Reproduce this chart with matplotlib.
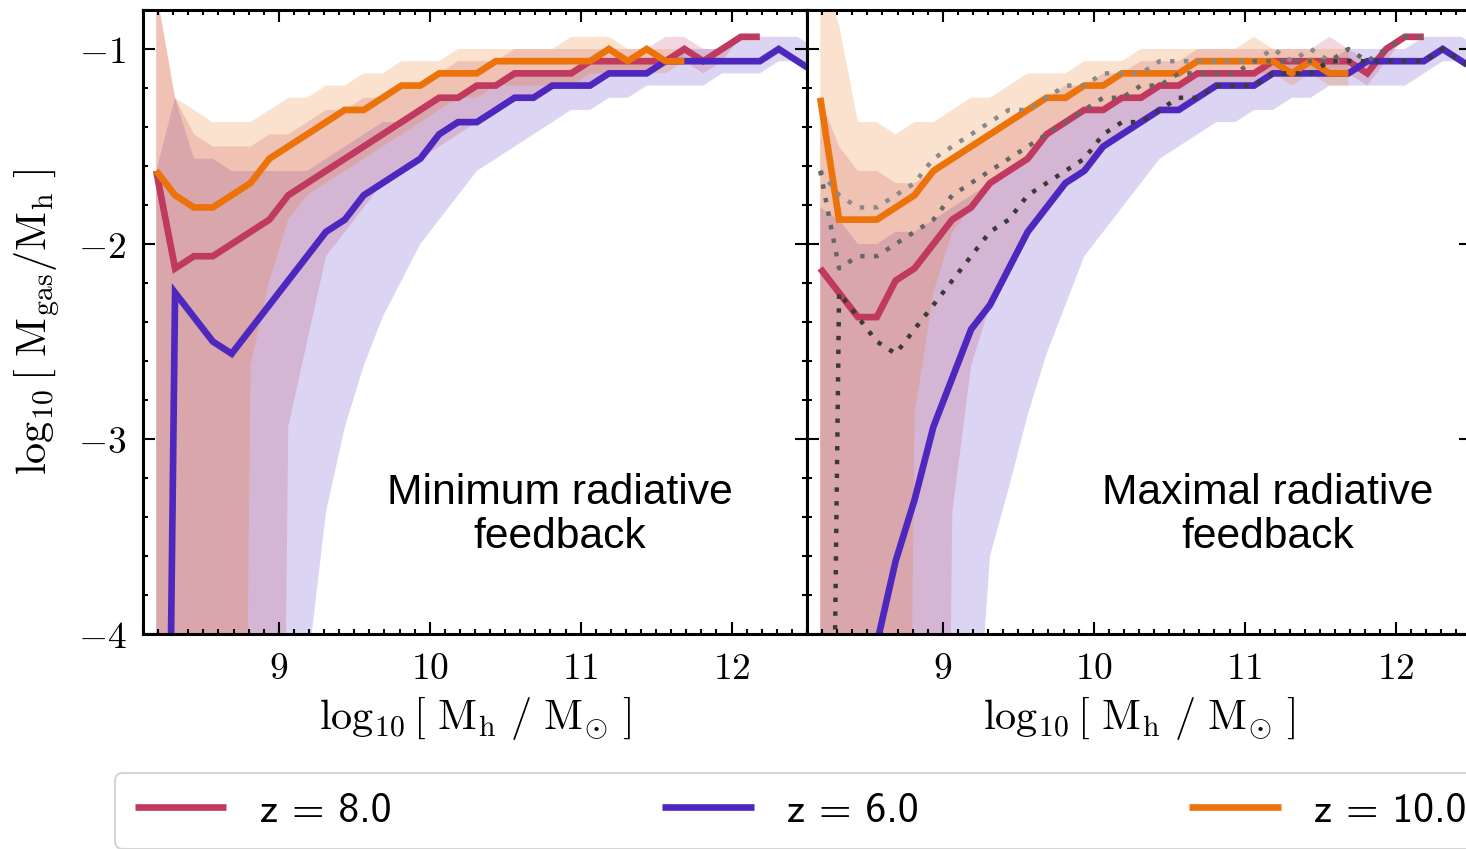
import matplotlib
matplotlib.use("Agg")
import matplotlib.pyplot as plt
from matplotlib.ticker import MultipleLocator, FuncFormatter
from matplotlib.lines import Line2D

plt.rcParams["mathtext.fontset"] = "cm"

# ---- halo-mass bin centres, log10(M_h / M_sun) ----
log_mh = [8.1875, 8.3125, 8.4375, 8.5625, 8.6875, 8.8125, 8.9375, 9.0625, 9.1875,
          9.3125, 9.4375, 9.5625, 9.6875, 9.8125, 9.9375, 10.0625, 10.1875, 10.3125,
          10.4375, 10.5625, 10.6875, 10.8125, 10.9375, 11.0625, 11.1875, 11.3125,
          11.4375, 11.5625, 11.6875, 11.8125, 11.9375, 12.0625, 12.1875, 12.3125,
          12.4375, 12.5625]

# ---- minimum radiative feedback: median and scatter of log10(M_gas/M_h) ----
z8_min_med = [-1.625, -2.125, -2.0625, -2.0625, -2.0, -1.9375, -1.875, -1.75, -1.6875,
              -1.625, -1.5625, -1.5, -1.4375, -1.375, -1.3125, -1.25, -1.25, -1.1875,
              -1.1875, -1.125, -1.125, -1.125, -1.125, -1.0625, -1.0625, -1.0625,
              -1.0625, -1.0625, -1.0, -1.0625, -1.0, -0.9375, -0.9375]
z8_min_hi = [-0.7, -1.25, -1.4375, -1.5, -1.5, -1.5, -1.4375, -1.4375, -1.375, -1.3125,
             -1.3125, -1.25, -1.25, -1.1875, -1.1875, -1.125, -1.0625, -1.0625, -1.0625,
             -1.0, -1.0, -1.0, -1.0, -1.0, -1.0, -1.0, -1.0, -0.9375, -0.9375, -1.0, -1.0,
             -0.9375, -0.9375]
z8_min_lo = [-12, -12, -12, -12, -12, -12, -12, -2.9375, -2.5, -2.0625, -1.9375, -1.8125,
             -1.6875, -1.625, -1.5625, -1.5, -1.4375, -1.375, -1.3125, -1.25, -1.25,
             -1.1875, -1.1875, -1.1875, -1.125, -1.125, -1.125, -1.0625, -1.0625, -1.125,
             -1.0625, -0.9375, -0.9375]

z6_min_med = [-10.5, -2.25, -2.375, -2.5, -2.5625, -2.4375, -2.3125, -2.1875, -2.0625,
              -1.9375, -1.875, -1.75, -1.6875, -1.625, -1.5625, -1.4375, -1.375, -1.375,
              -1.3125, -1.25, -1.25, -1.1875, -1.1875, -1.1875, -1.125, -1.125, -1.125,
              -1.0625, -1.0625, -1.0625, -1.0625, -1.0625, -1.0625, -1.0, -1.0625, -1.125]
z6_min_hi = [-1.625, -1.25, -1.5625, -1.5625, -1.625, -1.625, -1.625, -1.625, -1.625,
             -1.5625, -1.5, -1.4375, -1.375, -1.375, -1.3125, -1.25, -1.25, -1.1875,
             -1.1875, -1.125, -1.125, -1.125, -1.125, -1.0625, -1.0625, -1.0625, -1.0625,
             -1.0625, -1.0, -1.0, -1.0, -0.9375, -0.9375, -0.9375, -0.9375, -1.0]
z6_min_lo = [-12, -12, -12, -12, -12, -12, -12, -12, -4.2, -3.375, -2.9375, -2.625,
             -2.375, -2.1875, -2.0, -1.875, -1.75, -1.625, -1.5625, -1.5, -1.4375, -1.375,
             -1.3125, -1.3125, -1.25, -1.25, -1.1875, -1.1875, -1.1875, -1.1875, -1.125,
             -1.125, -1.125, -1.0625, -1.0625, -1.125]

z10_min_med = [-1.625, -1.75, -1.8125, -1.8125, -1.75, -1.6875, -1.5625, -1.5, -1.4375,
               -1.375, -1.3125, -1.3125, -1.25, -1.1875, -1.1875, -1.125, -1.125, -1.125,
               -1.0625, -1.0625, -1.0625, -1.0625, -1.0625, -1.0625, -1.0, -1.0625, -1.0,
               -1.0625, -1.0625]
z10_min_hi = [-0.7, -1.25, -1.3125, -1.375, -1.375, -1.375, -1.3125, -1.25, -1.25,
              -1.1875, -1.1875, -1.125, -1.125, -1.0625, -1.0625, -1.0625, -1.0, -1.0,
              -1.0, -1.0, -1.0, -1.0, -0.9375, -0.9375, -0.9375, -1.0, -1.0, -1.0, -1.0]
z10_min_lo = [-12, -12, -12, -12, -12, -2.625, -2.1875, -1.875, -1.75, -1.6875, -1.625,
              -1.5625, -1.5, -1.4375, -1.375, -1.3125, -1.25, -1.25, -1.1875, -1.1875,
              -1.1875, -1.1875, -1.1875, -1.125, -1.125, -1.125, -1.125, -1.125, -1.0625]

# ---- maximal radiative feedback ----
z8_max_med = [-2.125, -2.25, -2.375, -2.375, -2.1875, -2.125, -2.0, -1.875, -1.8125,
              -1.6875, -1.625, -1.5625, -1.4375, -1.375, -1.3125, -1.3125, -1.25, -1.25,
              -1.1875, -1.1875, -1.125, -1.125, -1.125, -1.125, -1.0625, -1.0625, -1.0625,
              -1.0625, -1.0625, -1.125, -1.0, -0.9375, -0.9375]
z8_max_hi = [-1.25, -1.5, -1.625, -1.625, -1.6875, -1.6875, -1.625, -1.5625, -1.5,
             -1.4375, -1.375, -1.3125, -1.25, -1.1875, -1.1875, -1.125, -1.125, -1.0625,
             -1.0625, -1.0625, -1.0, -1.0, -1.0, -1.0, -1.0, -1.0, -1.0, -0.9375, -1.0,
             -1.0625, -1.0, -0.9375, -0.9375]
z8_max_lo = [-12, -12, -12, -12, -12, -12, -12, -3.375, -2.625, -2.3125, -2.125, -1.9375,
             -1.8125, -1.6875, -1.625, -1.5, -1.4375, -1.375, -1.3125, -1.3125, -1.25,
             -1.1875, -1.1875, -1.1875, -1.125, -1.125, -1.125, -1.125, -1.125, -1.1875,
             -1.0625, -0.9375, -0.9375]

z6_max_med = [-6.0, -5.5, -4.8, -4.05, -3.625, -3.3125, -2.9375, -2.6875, -2.4375,
              -2.3125, -2.125, -1.9375, -1.8125, -1.6875, -1.625, -1.5, -1.4375, -1.375,
              -1.3125, -1.3125, -1.25, -1.1875, -1.1875, -1.1875, -1.125, -1.125, -1.125,
              -1.125, -1.125, -1.0625, -1.0625, -1.0625, -1.0625, -1.0, -1.0625, -1.125]
z6_max_hi = [-1.8125, -1.875, -2.0, -2.0, -1.9375, -1.9375, -1.875, -1.8125, -1.75,
             -1.6875, -1.625, -1.5625, -1.4375, -1.375, -1.3125, -1.3125, -1.25, -1.25,
             -1.1875, -1.1875, -1.125, -1.125, -1.125, -1.125, -1.0625, -1.0625, -1.0625,
             -1.0625, -1.0, -1.0, -1.0, -1.0, -0.9375, -0.9375, -0.9375, -1.0]
z6_max_lo = [-12, -12, -12, -12, -12, -12, -12, -12, -5.0, -3.6, -3.25, -2.875, -2.5625,
             -2.3125, -2.0625, -1.9375, -1.8125, -1.6875, -1.5625, -1.5, -1.4375, -1.375,
             -1.375, -1.3125, -1.3125, -1.25, -1.25, -1.1875, -1.1875, -1.1875, -1.1875,
             -1.1875, -1.125, -1.0625, -1.0625, -1.125]

z10_max_med = [-1.25, -1.875, -1.875, -1.875, -1.8125, -1.75, -1.625, -1.5625, -1.5,
               -1.4375, -1.375, -1.3125, -1.25, -1.25, -1.1875, -1.1875, -1.125, -1.125,
               -1.125, -1.125, -1.0625, -1.0625, -1.0625, -1.0625, -1.0625, -1.125,
               -1.0625, -1.125, -1.125]
z10_max_hi = [-0.6, -0.875, -1.375, -1.375, -1.4375, -1.375, -1.375, -1.3125, -1.25,
              -1.25, -1.1875, -1.125, -1.125, -1.125, -1.0625, -1.0625, -1.0625, -1.0,
              -1.0, -1.0, -1.0, -1.0, -1.0, -0.9375, -1.0, -1.0, -1.0, -1.0, -1.0]
z10_max_lo = [-12, -12, -12, -12, -12, -2.875, -2.25, -1.9375, -1.8125, -1.6875, -1.625,
              -1.5625, -1.4375, -1.375, -1.3125, -1.3125, -1.25, -1.25, -1.1875, -1.1875,
              -1.125, -1.125, -1.125, -1.125, -1.125, -1.1875, -1.125, -1.1875, -1.1875]

redshift_labels = ["8.0", "6.0", "10.0"]
panel_titles = ["Minimum radiative\nfeedback", "Maximal radiative\nfeedback"]

RED, PURPLE, ORANGE = "#C0395E", "#4E28BE", "#EC720A"
LW = 4.8
BAND_ALPHA = 0.2

W, H = 1466, 849
fig = plt.figure(figsize=(W / 100, H / 100), dpi=100)
ax_l = fig.add_axes([143 / W, 1 - 634 / H, 664 / W, 624 / H])
ax_r = fig.add_axes([807 / W, 1 - 634 / H, 664 / W, 624 / H], sharey=ax_l)


def draw_panel(ax, red, purple, orange):
    # bands first (z=6, z=8, z=10), then the medians on top
    for (med, lo, hi), col in ((purple, PURPLE), (red, RED), (orange, ORANGE)):
        n = len(med)
        ax.fill_between(log_mh[:n], lo, hi, color=col, alpha=BAND_ALPHA, lw=0)
    lines = []
    for (med, lo, hi), col in ((red, RED), (purple, PURPLE), (orange, ORANGE)):
        n = len(med)
        ln, = ax.plot(log_mh[:n], med, color=col, lw=LW, solid_joinstyle="miter",
                      solid_capstyle="butt")
        lines.append(ln)
    return lines


handles = draw_panel(ax_l, (z8_min_med, z8_min_lo, z8_min_hi),
                     (z6_min_med, z6_min_lo, z6_min_hi),
                     (z10_min_med, z10_min_lo, z10_min_hi))
draw_panel(ax_r, (z8_max_med, z8_max_lo, z8_max_hi),
           (z6_max_med, z6_max_lo, z6_max_hi),
           (z10_max_med, z10_max_lo, z10_max_hi))

# minimum-feedback medians repeated as dotted references
for med, grey in ((z10_min_med, "#8a8a8a"), (z8_min_med, "#666666"),
                  (z6_min_med, "#3a3a3a")):
    ax_r.plot(log_mh[:len(med)], med, color=grey, lw=3.2, dashes=(1, 2.1))

math = FuncFormatter(lambda v, p: r"$%g$" % v)
for ax in (ax_l, ax_r):
    ax.set_xlim(8.1, 12.5)
    ax.set_ylim(-4, -0.8)
    ax.xaxis.set_major_locator(MultipleLocator(1))
    ax.xaxis.set_minor_locator(MultipleLocator(0.1))
    ax.yaxis.set_major_locator(MultipleLocator(1))
    ax.yaxis.set_minor_locator(MultipleLocator(0.2))
    ax.xaxis.set_major_formatter(math)
    ax.yaxis.set_major_formatter(math)
    ax.tick_params(which="both", direction="in", top=True, right=True, width=1.5,
                   labelsize=27, pad=12)
    ax.tick_params(which="major", length=8.6)
    ax.tick_params(which="minor", length=3.6)
    for sp in ax.spines.values():
        sp.set_linewidth(2.2)
    ax.set_xlabel(r"$\log_{10}[\ \mathrm{M_h}\ /\ \mathrm{M_{\odot}}\ ]$", fontsize=30.5,
                  labelpad=6)

ax_r.tick_params(labelleft=False)
ax_l.set_ylabel(r"$\log_{10}[\ \mathrm{M_{gas}/M_h}\ ]$", fontsize=30.5, labelpad=11)

ax_l.text(10.86, -3.39, panel_titles[0], ha="center", va="center", fontsize=30.7,
          family="Liberation Sans", linespacing=1.15)
ax_r.text(11.15, -3.39, panel_titles[1], ha="center", va="center", fontsize=30.7,
          family="Liberation Sans", linespacing=1.15)

labels = ["z = %s" % s for s in redshift_labels]
leg_handles = [Line2D([], [], color=h.get_color(), lw=LW, solid_capstyle="butt")
               for h in handles]
leg = fig.legend(leg_handles, labels, loc="upper left",
                 bbox_to_anchor=(115 / W, 1 - 773 / H), ncol=3,
                 prop={"family": "cmss10", "size": 30}, frameon=True, fancybox=True,
                 edgecolor="#cccccc", framealpha=0.8, handlelength=2.2,
                 handletextpad=0.8, columnspacing=6.5, borderaxespad=0, borderpad=0.47)
leg.get_frame().set_linewidth(1.5)

fig.savefig("out.png", dpi=100)
